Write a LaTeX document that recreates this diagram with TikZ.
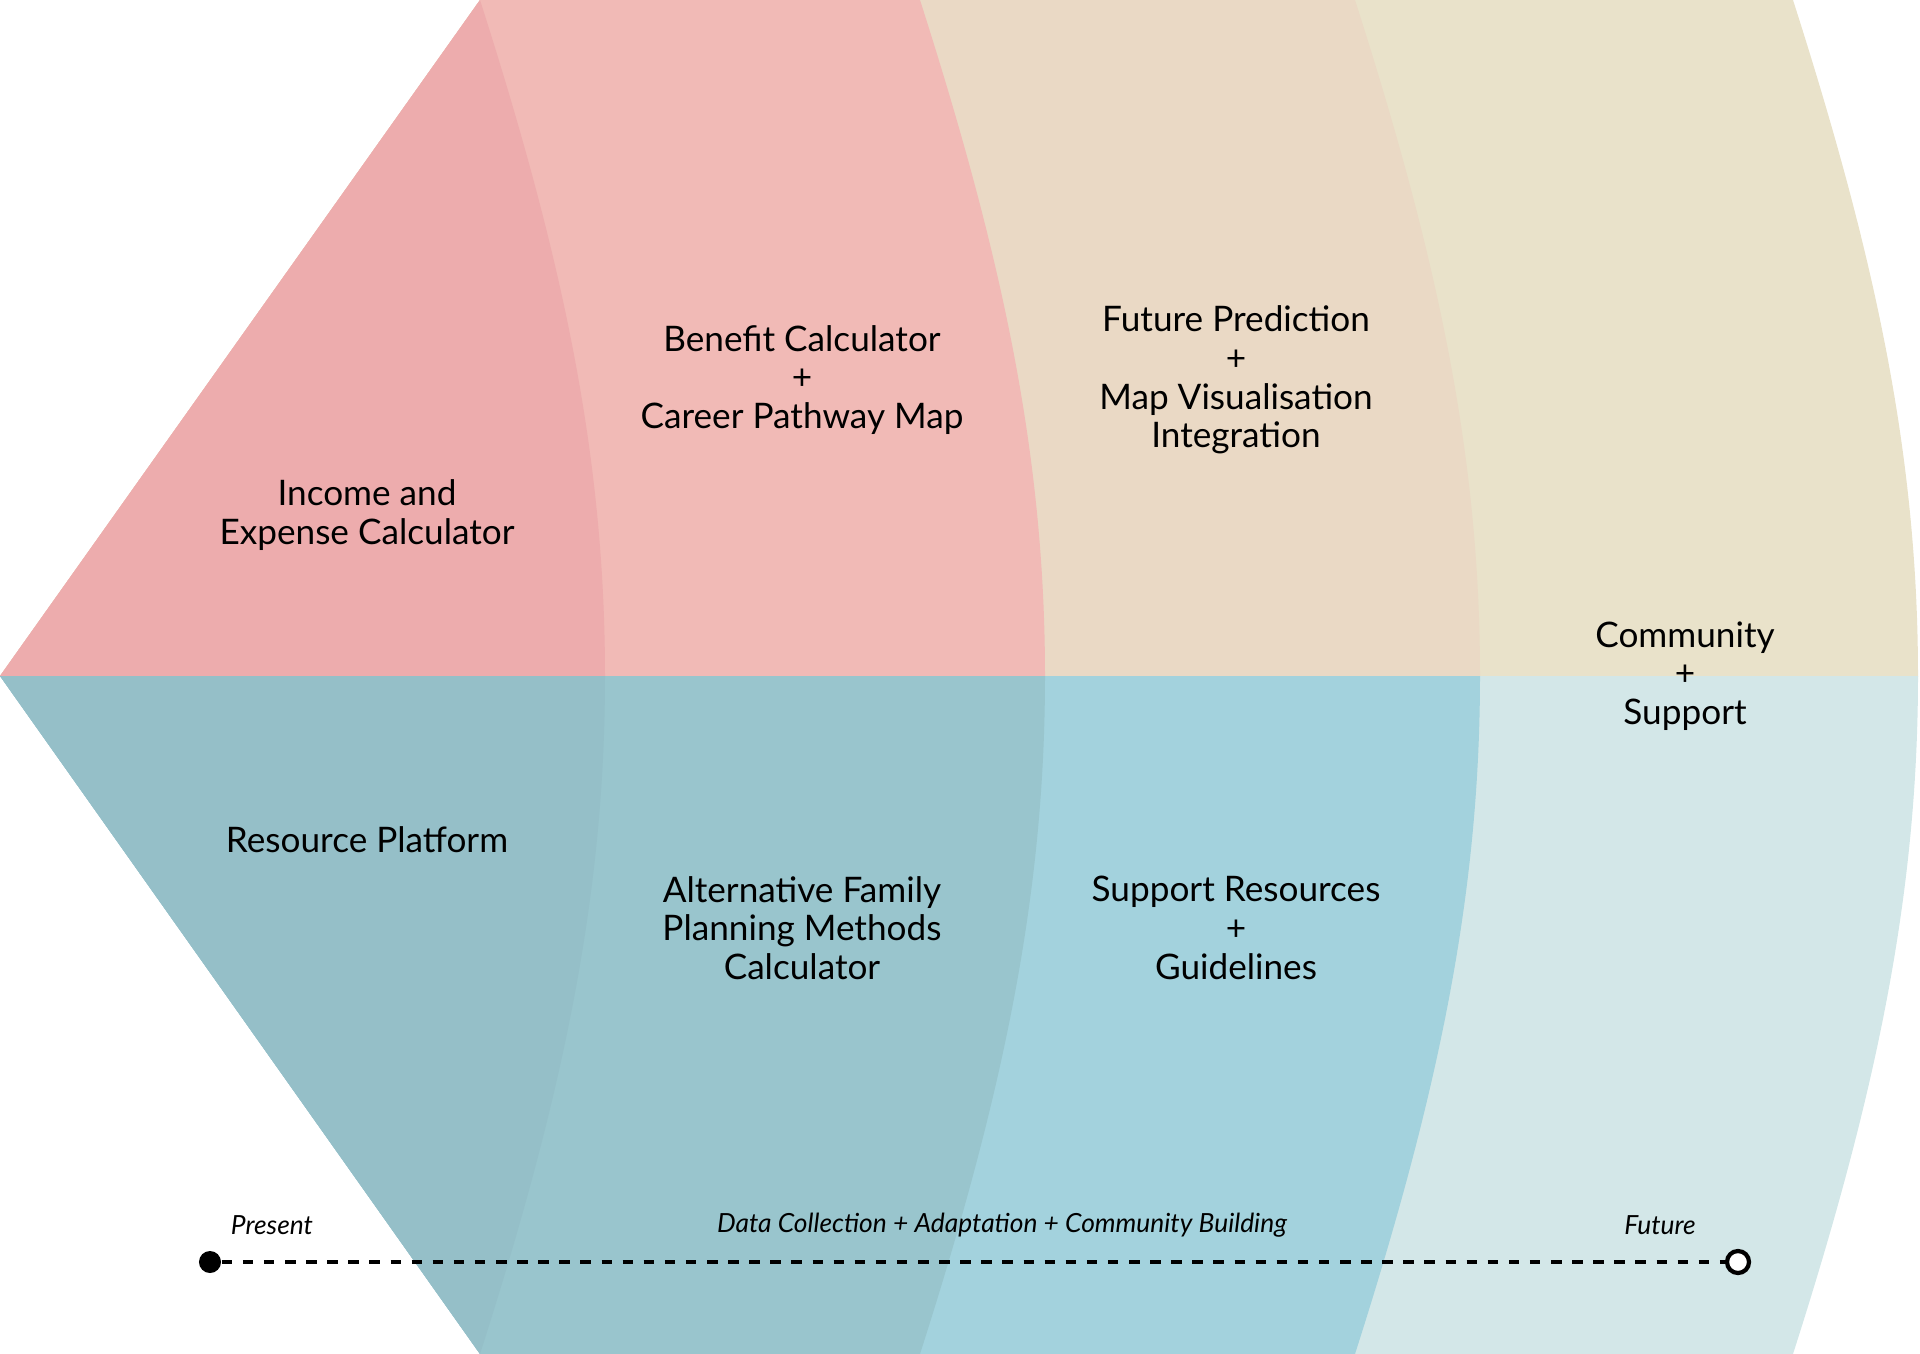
\documentclass[tikz,border=0pt]{standalone}
\usepackage{fontspec}
\setmainfont{Lato}
\usepackage{xcolor}
\definecolor{topA}{HTML}{EDACAD}
\definecolor{topB}{HTML}{F1BAB6}
\definecolor{topC}{HTML}{EAD9C5}
\definecolor{topD}{HTML}{E9E2CA}
\definecolor{botA}{HTML}{95BFC8}
\definecolor{botB}{HTML}{99C5CD}
\definecolor{botC}{HTML}{A3D2DD}
\definecolor{botD}{HTML}{D3E7E8}
\newcommand{\bandpath}[1]{(0,676) -- (480,0) -- (#1,0) .. controls (#1+80,250) and (#1+125,450) .. (#1+125,676) .. controls (#1+125,902) and (#1+80,1104) .. (#1,1354) -- (480,1354) -- cycle}
\begin{document}
\begin{tikzpicture}[x=0.01cm,y=-0.01cm]
        \tikzset{label/.style = {align=center, font=\fontsize{10}{11}\selectfont},
                 note/.style = {font=\fontsize{7.5}{9}\selectfont\itshape}}
        \useasboundingbox (0,0) rectangle (1920,1354);
        % upper half
        \begin{scope}
            \clip (0,0) rectangle (1920,676);
            \fill[topD] \bandpath{1793};
            \fill[topC] \bandpath{1355};
            \fill[topB] \bandpath{920};
            \fill[topA] \bandpath{480};
        \end{scope}
        % lower half
        \begin{scope}
            \clip (0,676) rectangle (1920,1354);
            \fill[botD] \bandpath{1793};
            \fill[botC] \bandpath{1355};
            \fill[botB] \bandpath{920};
            \fill[botA] \bandpath{480};
        \end{scope}

        \node(Income)[label] at (367,515) {Income and\\Expense Calculator};
        \node(Benefit)[label] at (802,380) {Benefit Calculator\\+\\Career Pathway Map};
        \node(Prediction)[label] at (1236,380) {Future Prediction\\+\\Map Visualisation\\Integration};
        \node(Community)[label] at (1685,676) {Community\\+\\Support};
        \node(Resource)[label] at (367,840) {Resource Platform};
        \node(Alternative)[label] at (802,928) {Alternative Family\\Planning Methods\\Calculator};
        \node(Support)[label] at (1236,928) {Support Resources\\+\\Guidelines};

        % timeline
        \node(Present)[note] at (272,1225) {Present};
        \node(Middle)[note] at (1002,1225) {Data Collection + Adaptation + Community Building};
        \node(Future)[note] at (1660,1225) {Future};
        \node(Start)[circle, fill=black, minimum size=0.22cm, inner sep=0pt] at (210,1262) {};
        \node(End)[circle, draw=black, line width=1.2pt, fill=white, minimum size=0.22cm, inner sep=0pt] at (1738,1262) {};
        \draw[dashed, line width=0.9pt] (Start) -- (End);
\end{tikzpicture}
\end{document}
